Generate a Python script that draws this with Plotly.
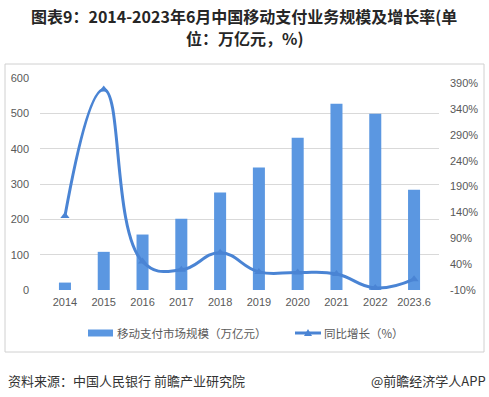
import plotly.graph_objects as go

years = ["2014", "2015", "2016", "2017", "2018", "2019", "2020", "2021", "2022", "2023.6"]
scale = [21, 108, 157, 202, 276, 347, 431, 527, 499, 284]
growth = [133, 378, 45, 29, 62, 25, 24, 21, -6, 11]

left_ticks = [0, 100, 200, 300, 400, 500, 600]
right_ticks = [-10, 40, 90, 140, 190, 240, 290, 340, 390]
right_labels = [f"{v}%" for v in right_ticks]

FONT = "Liberation Sans, Noto Sans CJK SC, sans-serif"
CJK = "Noto Sans CJK SC, Liberation Sans, sans-serif"
BAR_C = "#5B97E1"
LINE_C = "#4A84D4"

fig = go.Figure()
fig.add_trace(go.Bar(
    x=years, y=scale, name="移动支付市场规模（万亿元）",
    marker=dict(color=BAR_C, line=dict(width=0)),
    width=0.31, yaxis="y", showlegend=False,
))
fig.add_trace(go.Scatter(
    x=years, y=growth, name="同比增长（%）", yaxis="y2",
    mode="lines+markers", showlegend=False,
    line=dict(color=LINE_C, width=3, shape="spline", smoothing=1.3),
    marker=dict(symbol="triangle-up", size=8, color=LINE_C),
))

W, H = 489, 397
L, R, T, B = 40, 50, 78, 107
pw, ph = W - L - R, H - T - B

def px(x):
    return (x - L) / pw

def py(y):
    return (H - B - y) / ph

ly = 333  # legend centre line
tri = f"M {px(304)},{py(ly+3)} L {px(312)},{py(ly+3)} L {px(308)},{py(ly-4)} Z"

fig.update_layout(
    width=W, height=H,
    margin=dict(l=L, r=R, t=T, b=B, autoexpand=False),
    paper_bgcolor="white", plot_bgcolor="white",
    font=dict(family=FONT, size=11, color="#595959"),
    showlegend=False,
    xaxis=dict(type="category", showgrid=False, showline=False, ticks="", automargin=False,
               tickfont=dict(size=11, color="#595959"), ticklabelstandoff=4),
    yaxis=dict(range=[0, 600], tickvals=left_ticks, showgrid=True, gridcolor="#D9D9D9",
               gridwidth=1, zeroline=False, showline=False, automargin=False,
               ticklabelstandoff=10,
               tickfont=dict(size=11, color="#595959")),
    yaxis2=dict(range=[-10, 400], tickvals=right_ticks, ticktext=right_labels,
                overlaying="y", side="right", showgrid=False, zeroline=False, automargin=False,
                showline=False, ticklabelstandoff=10,
                tickfont=dict(size=11, color="#595959")),
    shapes=[
        dict(type="rect", xref="paper", yref="paper",
             x0=px(5), x1=px(484), y0=py(352), y1=py(64),
             line=dict(color="#D0D0D0", width=1), fillcolor="rgba(0,0,0,0)", layer="above"),
        dict(type="rect", xref="paper", yref="paper",
             x0=px(88), x1=px(113), y0=py(ly+3.5), y1=py(ly-3.5),
             line=dict(width=0), fillcolor=BAR_C, layer="above"),
        dict(type="line", xref="paper", yref="paper",
             x0=px(295), x1=px(321), y0=py(ly), y1=py(ly),
             line=dict(color=LINE_C, width=3), layer="above"),
        dict(type="path", xref="paper", yref="paper", path=tri,
             line=dict(width=0), fillcolor=LINE_C, layer="above"),
    ],
    annotations=[
        dict(text="<b>图表9：2014-2023年6月中国移动支付业务规模及增长率(单</b>",
             xref="paper", yref="paper", x=px(244), y=py(16), xanchor="center", yanchor="middle",
             showarrow=False, font=dict(family=CJK, size=16, color="#262626")),
        dict(text="<b>位：万亿元，%)</b>",
             xref="paper", yref="paper", x=px(244), y=py(38), xanchor="center", yanchor="middle",
             showarrow=False, font=dict(family=CJK, size=16, color="#262626")),
        dict(text="移动支付市场规模（万亿元）",
             xref="paper", yref="paper", x=px(115), y=py(ly), xanchor="left", yanchor="middle",
             showarrow=False, font=dict(family=CJK, size=11.5, color="#595959")),
        dict(text="同比增长（%）",
             xref="paper", yref="paper", x=px(322), y=py(ly), xanchor="left", yanchor="middle",
             showarrow=False, font=dict(family=CJK, size=11.5, color="#595959")),
        dict(text="资料来源：中国人民银行 前瞻产业研究院",
             xref="paper", yref="paper", x=px(6), y=py(380), xanchor="left", yanchor="middle",
             showarrow=False, font=dict(family=CJK, size=13, color="#333333")),
        dict(text="@前瞻经济学人APP",
             xref="paper", yref="paper", x=px(488), y=py(380), xanchor="right", yanchor="middle",
             showarrow=False, font=dict(family=CJK, size=13, color="#333333")),
    ],
)

post = ("document.body.style.margin='0';document.body.style.padding='0';"
        "document.body.style.overflow='hidden';"
        "document.documentElement.style.overflow='hidden';")

fig.write_html("out.html", post_script=post,
               config={"responsive": False, "displayModeBar": False})
